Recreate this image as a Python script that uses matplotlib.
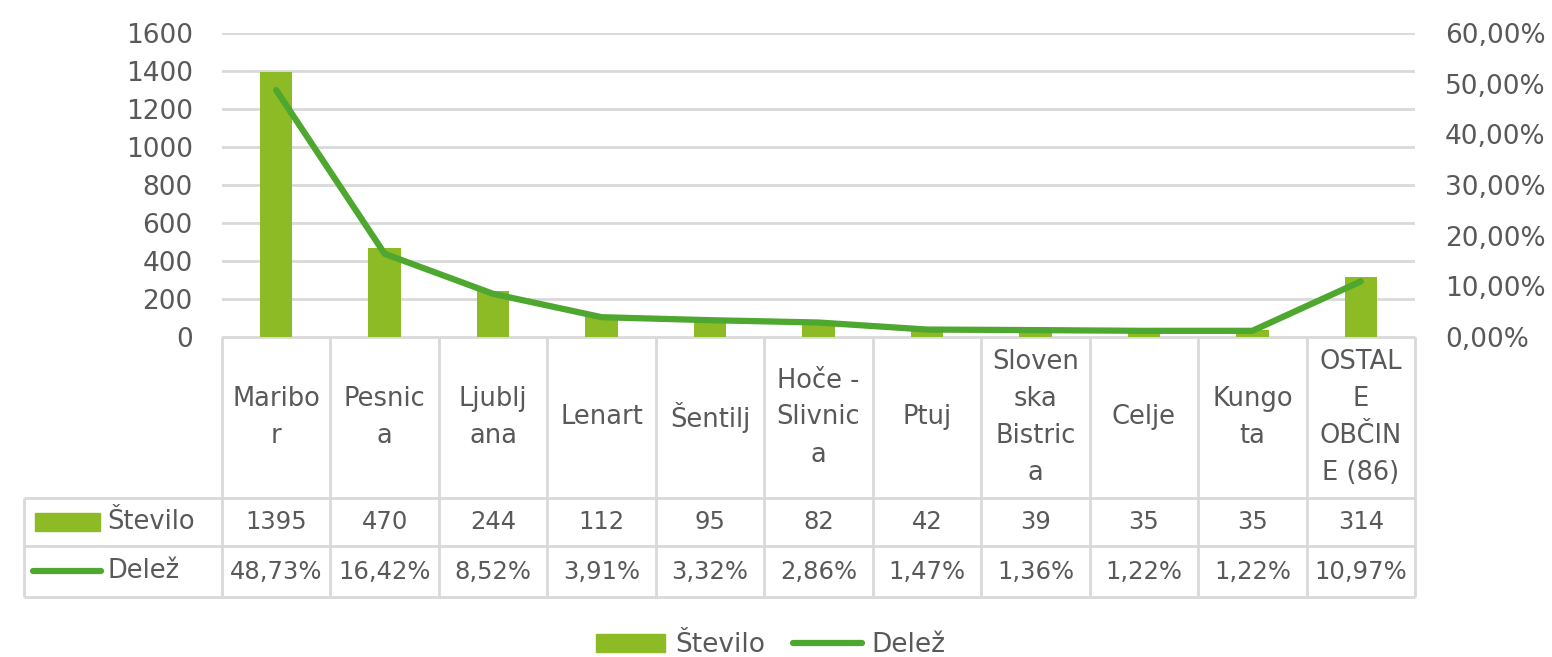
import matplotlib
matplotlib.use("Agg")
import matplotlib.pyplot as plt
from matplotlib.patches import Rectangle
from matplotlib.lines import Line2D
from matplotlib.ticker import FuncFormatter
import numpy as np

# data
categories = ["Maribo\nr", "Pesnic\na", "Ljublj\nana", "Lenart", "Šentilj",
              "Hoče -\nSlivnic\na", "Ptuj", "Sloven\nska\nBistric\na", "Celje",
              "Kungo\nta", "OSTAL\nE\nOBČIN\nE (86)"]
stevilo = [1395, 470, 244, 112, 95, 82, 42, 39, 35, 35, 314]
delez = [48.73, 16.42, 8.52, 3.91, 3.32, 2.86, 1.47, 1.36, 1.22, 1.22, 10.97]

bar_col = "#8DBB25"
line_col = "#4EA72E"
txt_col = "#595959"
grid_col = "#D9D9D9"
fs_axis = 19
fs_head = 18.5
fs_cell = 17.5

plt.rcParams['font.family'] = ['DejaVu Sans']

W, H = 1552, 657
fig = plt.figure(figsize=(W / 100, H / 100), dpi=100)

# plot area in pixels
L, R, T, B = 222, 1415, 33, 337
ax = fig.add_axes([L / W, 1 - B / H, (R - L) / W, (B - T) / H])
x = np.arange(len(categories))
ax.bar(x, stevilo, width=0.3, color=bar_col, zorder=2, label="Število")
ax.set_xlim(-0.5, len(categories) - 0.5)
ax.set_ylim(0, 1600)
ax.set_yticks(np.arange(0, 1601, 200))
ax.yaxis.grid(True, color=grid_col, lw=2)
ax.set_axisbelow(True)
ax.set_xticks([])
for s in ax.spines.values():
    s.set_visible(False)
ax.tick_params(axis='y', length=0, pad=21, labelsize=fs_axis, labelcolor=txt_col)

ax2 = ax.twinx()
ax2.plot(x, delez, color=line_col, lw=4.5, solid_capstyle='round',
         solid_joinstyle='round', zorder=3, label="Delež")
ax2.set_ylim(0, 60)
ax2.set_yticks(np.arange(0, 61, 10))
ax2.yaxis.set_major_formatter(FuncFormatter(lambda v, p: f"{v:.2f}%".replace('.', ',')))
for s in ax2.spines.values():
    s.set_visible(False)
ax2.tick_params(axis='y', length=0, pad=21.5, labelsize=fs_axis, labelcolor=txt_col)
ax2.set_xlim(-0.5, len(categories) - 0.5)

# data table drawn in pixel coordinates
tab = fig.add_axes([0, 0, 1, 1], zorder=-1)
tab.set_xlim(0, W)
tab.set_ylim(H, 0)
tab.axis('off')
n = len(categories)
colw = (R - L) / n
r0, r1, r2, r3 = B, 498, 546, 597
lx = 24
lk = dict(color=grid_col, lw=2, solid_capstyle='butt')
# horizontal lines
tab.plot([L, R], [r0, r0], **lk)
for yy in (r1, r2, r3):
    tab.plot([lx, R], [yy, yy], **lk)
# vertical lines
tab.plot([lx, lx], [r1, r3], **lk)
for i in range(n + 1):
    xx = L + i * colw
    tab.plot([xx, xx], [r0, r3], **lk)

for i in range(n):
    cx = L + (i + 0.5) * colw
    tab.text(cx, (r0 + r1) / 2, categories[i], ha='center', va='center',
             fontsize=fs_head, color=txt_col, linespacing=1.55)
    tab.text(cx, (r1 + r2) / 2, str(stevilo[i]), ha='center', va='center',
             fontsize=fs_cell, color=txt_col)
    tab.text(cx, (r2 + r3) / 2, f"{delez[i]:.2f}%".replace('.', ','),
             ha='center', va='center', fontsize=fs_cell, color=txt_col)

# legend keys in table
tab.add_patch(Rectangle((35, 513), 65, 18, color=bar_col))
tab.plot([33, 101], [571, 571], color=line_col, lw=4.5, solid_capstyle='round')
tab.text(107, (r1 + r2) / 2, "Število", ha='left', va='center', fontsize=fs_head, color=txt_col)
tab.text(107, (r2 + r3) / 2, "Delež", ha='left', va='center', fontsize=fs_head, color=txt_col)

# bottom legend
handles = [Rectangle((0, 0), 1, 1, color=bar_col),
           Line2D([0], [0], color=line_col, lw=4.5, solid_capstyle='round')]
fig.legend(handles, ["Število", "Delež"], loc='center',
           bbox_to_anchor=(771 / W, 1 - 645 / H), ncol=2, frameon=False,
           fontsize=fs_axis, labelcolor=txt_col, handlelength=2.6, handletextpad=0.38,
           columnspacing=1.06, handleheight=0.65, borderpad=0)

fig.savefig("out.png", dpi=100)
